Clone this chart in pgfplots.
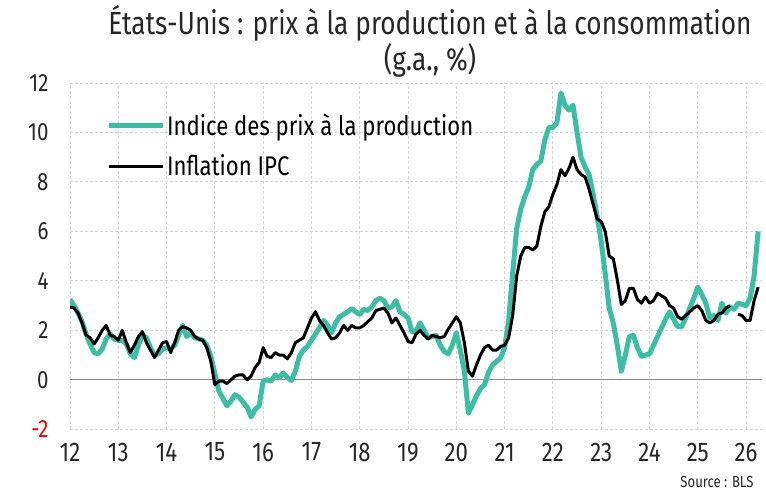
\documentclass[border=0pt]{standalone}
\usepackage{fontspec}
\setmainfont{Fira Sans}[FakeStretch=0.82]
\usepackage{pgfplots}
\usepackage{pgfplotstable}
\pgfplotsset{compat=1.18}

\definecolor{ppigreen}{RGB}{60,190,165}
\definecolor{gridgray}{RGB}{212,212,212}

% g.a. en %, mensuel : ppi = prix a la production, cpi = IPC
\pgfplotstableread{
year month ppi cpi
2012 1 3.25 2.95
2012 2 3.0 2.9
2012 3 2.7 2.7
2012 4 2.35 2.3
2012 5 1.85 1.8
2012 6 1.45 1.7
2012 7 1.1 1.45
2012 8 1.05 1.7
2012 9 1.25 2.0
2012 10 1.65 2.2
2012 11 1.85 1.8
2012 12 1.65 1.75
2013 1 1.6 1.6
2013 2 1.6 2.0
2013 3 1.45 1.5
2013 4 1.05 1.1
2013 5 0.9 1.4
2013 6 1.4 1.75
2013 7 1.8 1.95
2013 8 1.7 1.5
2013 9 1.3 1.2
2013 10 1.0 0.9
2013 11 1.05 1.2
2013 12 1.25 1.5
2014 1 1.3 1.55
2014 2 1.25 1.1
2014 3 1.4 1.5
2014 4 1.8 2.0
2014 5 2.2 2.15
2014 6 1.75 2.1
2014 7 1.9 2.0
2014 8 1.7 1.75
2014 9 1.65 1.65
2014 10 1.6 1.6
2014 11 1.4 1.3
2014 12 0.95 0.75
2015 1 0.25 -0.2
2015 2 -0.45 -0.05
2015 3 -0.75 -0.05
2015 4 -1.05 -0.15
2015 5 -0.85 0.0
2015 6 -0.6 0.15
2015 7 -0.7 0.2
2015 8 -0.9 0.2
2015 9 -1.1 0.0
2015 10 -1.5 0.15
2015 11 -1.2 0.5
2015 12 -1.05 0.7
2016 1 -0.05 1.3
2016 2 0.0 0.95
2016 3 -0.05 0.9
2016 4 0.2 1.1
2016 5 0.1 1.0
2016 6 0.27 1.0
2016 7 0.1 0.85
2016 8 -0.03 1.1
2016 9 0.35 1.5
2016 10 0.95 1.6
2016 11 1.2 1.7
2016 12 1.35 2.1
2017 1 1.6 2.5
2017 2 1.85 2.75
2017 3 2.1 2.4
2017 4 2.4 2.2
2017 5 2.2 1.9
2017 6 1.9 1.65
2017 7 2.3 1.7
2017 8 2.55 1.9
2017 9 2.65 2.2
2017 10 2.75 2.0
2017 11 2.88 2.2
2017 12 2.75 2.1
2018 1 2.65 2.1
2018 2 2.85 2.2
2018 3 2.8 2.35
2018 4 2.95 2.5
2018 5 3.2 2.8
2018 6 3.3 2.85
2018 7 3.2 2.9
2018 8 2.9 2.7
2018 9 2.95 2.3
2018 10 3.2 2.5
2018 11 2.75 2.2
2018 12 2.65 1.9
2019 1 2.5 1.55
2019 2 1.95 1.5
2019 3 1.97 1.85
2019 4 2.3 2.0
2019 5 2.0 1.8
2019 6 1.7 1.65
2019 7 1.75 1.8
2019 8 1.8 1.75
2019 9 1.4 1.7
2019 10 1.15 1.75
2019 11 1.05 2.05
2019 12 1.4 2.3
2020 1 1.9 2.55
2020 2 1.2 2.3
2020 3 0.35 1.5
2020 4 -1.35 0.35
2020 5 -1.0 0.15
2020 6 -0.65 0.6
2020 7 -0.35 1.0
2020 8 -0.2 1.3
2020 9 0.3 1.4
2020 10 0.6 1.2
2020 11 0.75 1.2
2020 12 0.88 1.35
2021 1 1.3 1.4
2021 2 2.4 1.7
2021 3 4.3 2.6
2021 4 6.1 4.2
2021 5 6.9 5.0
2021 6 7.4 5.35
2021 7 7.8 5.35
2021 8 8.5 5.25
2021 9 8.7 5.4
2021 10 8.85 6.2
2021 11 9.7 6.8
2021 12 10.2 7.0
2022 1 10.2 7.5
2022 2 10.4 7.9
2022 3 11.6 8.5
2022 4 11.1 8.25
2022 5 10.9 8.55
2022 6 11.1 9.0
2022 7 10.0 8.5
2022 8 9.0 8.3
2022 9 8.6 8.2
2022 10 8.3 7.7
2022 11 7.5 7.1
2022 12 6.6 6.5
2023 1 5.6 6.4
2023 2 4.3 6.0
2023 3 2.9 5.0
2023 4 2.3 4.9
2023 5 1.4 4.05
2023 6 0.35 3.05
2023 7 1.0 3.2
2023 8 1.75 3.7
2023 9 1.8 3.7
2023 10 1.3 3.25
2023 11 0.95 3.1
2023 12 1.0 3.35
2024 1 1.05 3.1
2024 2 1.4 3.2
2024 3 1.75 3.5
2024 4 2.1 3.4
2024 5 2.45 3.3
2024 6 2.75 3.0
2024 7 2.45 2.9
2024 8 2.15 2.55
2024 9 2.15 2.45
2024 10 2.5 2.6
2024 11 2.9 2.75
2024 12 3.3 2.9
2025 1 3.75 3.0
2025 2 3.45 2.8
2025 3 3.1 2.4
2025 4 2.5 2.3
2025 5 2.6 2.4
2025 6 2.4 2.65
2025 7 3.1 2.7
2025 8 2.7 2.9
2025 9 2.95 3.0
2025 10 2.85 nan
2025 11 3.1 2.65
2025 12 3.05 2.6
2026 1 3.0 2.4
2026 2 3.3 2.4
2026 3 4.2 3.2
2026 4 6.0 3.75
}\prix

\begin{document}
\begin{tikzpicture}
\path[use as bounding box] (0,0) rectangle (766pt,-490pt);
\begin{axis}[
  at={(70pt,-429.3pt)}, anchor=south west,
  scale only axis, width=692pt, height=346.3pt,
  xmin=12, xmax=26.33, ymin=-2, ymax=12,
  axis line style={draw=none},
  tick style={draw=none},
  xtick={12,13,...,26},
  xticklabels={12,13,14,15,16,17,18,19,20,21,22,23,24,25,26},
  ytick={-2,0,2,4,6,8,10,12},
  yticklabels={\textcolor{red}{-2},0,2,4,6,8,10,12},
  grid=major,
  major grid style={gridgray, dash pattern=on 3pt off 2pt, line width=0.9pt},
  extra y ticks={0}, extra y tick labels={},
  extra y tick style={major grid style={solid, black!45, line width=1.3pt}},
  ticklabel style={text=black!85},
  xticklabel style={font=\fontsize{27}{30}\selectfont, yshift=-10pt},
  yticklabel style={font=\fontsize{25}{28}\selectfont, xshift=-18pt},
  unbounded coords=jump,
  legend style={draw=none, fill=none, at={(0.052,0.918)}, anchor=north west,
    font=\fontsize{27}{30}\selectfont, row sep=14pt, column sep=0pt, inner sep=0pt},
  legend cell align=left,
  legend image code/.code={\draw[#1] (0pt,0pt) -- (54pt,0pt);},
]
\addplot[ppigreen, line width=5pt, line join=round]
  table[x expr=\thisrow{year}-2000+(\thisrow{month}-1)/12, y=ppi] {\prix};
\addplot[black, line width=3pt, line join=round]
  table[x expr=\thisrow{year}-2000+(\thisrow{month}-1)/12, y=cpi] {\prix};
\legend{Indice des prix à la production, Inflation IPC}
\end{axis}
\node[align=center, anchor=north, font=\fontsize{32}{36}\selectfont, text=black!85]
  at (430pt,-2pt) {États-Unis : prix à la production et à la consommation\\(g.a., \%)};
\node[anchor=base east, font=\fontsize{16}{18}\selectfont, text=black!85]
  at (757pt,-487pt) {Source : BLS};
\end{tikzpicture}
\end{document}
